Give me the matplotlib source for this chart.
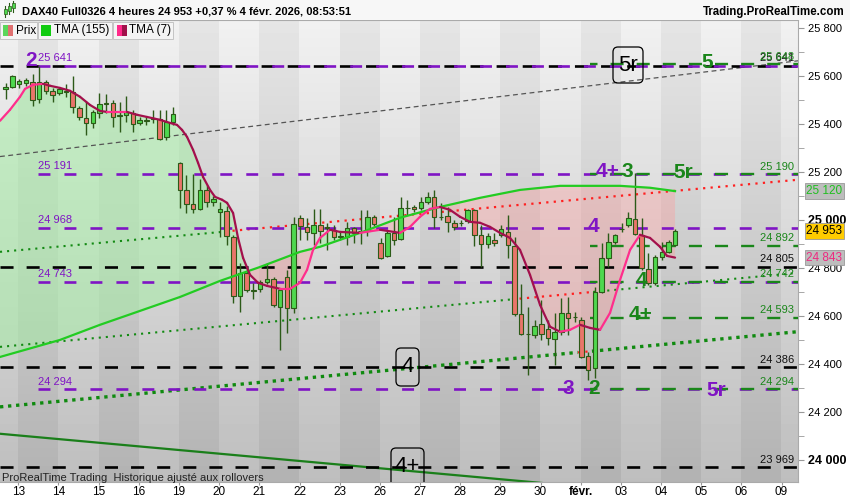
import matplotlib
matplotlib.use("Agg")
import matplotlib.pyplot as plt
import numpy as np
from matplotlib.patches import Rectangle, FancyBboxPatch
from matplotlib.collections import LineCollection

plt.rcParams['font.family'] = ['Liberation Sans', 'DejaVu Sans']
plt.rcParams['lines.scale_dashes'] = False

# jours affiches sous l'axe (un jour = 1 unite en x)
jours = ['13', '14', '15', '16', '19', '20', '21', '22', '23', '26', '27', '28',
         '29', '30', 'févr.', '03', '04', '05', '06', '09']

# bougies 4 heures (6 par jour), la premiere = 12 janv. 16h
ouv = [25546, 25554, 25567, 25571, 25575, 25504, 25575, 25538, 25529, 25534,
       25534, 25467, 25425, 25404, 25446, 25484, 25488, 25438, 25438, 25446,
       25404, 25412, 25421, 25421, 25346, 25409, 25238, 25125, 25067, 25046,
       25125, 25075, 25034, 25038, 24929, 24684, 24779, 24704, 24713, 24742,
       24754, 24638, 24763, 24634, 25009, 24971, 24946, 24979, 24971, 24959,
       24929, 24929, 24967, 24954, 24954, 25013, 24904, 24850, 24946, 24921,
       25050, 25054, 25050, 25075, 25096, 25013, 25017, 24988, 24988, 24996,
       25042, 24938, 24900, 24917, 24938, 24950, 24892, 24609, 24525, 24521,
       24567, 24546, 24504, 24534, 24613, 24596, 24584, 24434, 24384, 24700,
       24842, 24909, 24963, 24979, 25004, 24938, 24796, 24738, 24846, 24867,
       24896]
haut = [25571, 25604, 25588, 25592, 25609, 25641, 25584, 25550, 25554, 25567,
        25600, 25475, 25496, 25459, 25529, 25525, 25500, 25492, 25517, 25459,
        25429, 25434, 25459, 25459, 25459, 25471, 25242, 25188, 25192, 25171,
        25146, 25100, 25075, 25059, 24938, 24821, 24800, 24738, 24750, 24821,
        24763, 24717, 24792, 25013, 25021, 25009, 25046, 25046, 24988, 24979,
        24950, 24992, 24971, 25042, 25042, 25021, 24925, 24959, 25013, 25096,
        25084, 25063, 25096, 25117, 25125, 25071, 25054, 25000, 25000, 25046,
        25046, 24979, 24946, 24946, 24979, 25021, 24929, 24734, 24638, 24584,
        24667, 24584, 24613, 24675, 24679, 24617, 24596, 24450, 24721, 24904,
        24946, 24942, 24988, 25034, 25195, 25009, 24863, 24854, 24909, 24917,
        24963]
bas = [25504, 25550, 25550, 25559, 25475, 25488, 25525, 25492, 25521, 25513,
       25446, 25417, 25354, 25384, 25425, 25446, 25388, 25367, 25409, 25367,
       25396, 25396, 25404, 25334, 25334, 25396, 25050, 25029, 25029, 25042,
       25054, 25059, 24929, 24896, 24654, 24617, 24700, 24671, 24700, 24734,
       24638, 24459, 24529, 24613, 24917, 24917, 24896, 24904, 24875, 24917,
       24917, 24896, 24904, 24900, 24934, 24975, 24838, 24846, 24896, 24917,
       25021, 25034, 25042, 25067, 24967, 25000, 24950, 24959, 24975, 24988,
       24892, 24804, 24884, 24892, 24929, 24842, 24600, 24521, 24354, 24509,
       24500, 24479, 24396, 24521, 24521, 24575, 24425, 24334, 24342, 24696,
       24804, 24900, 24950, 24971, 24938, 24792, 24729, 24729, 24834, 24863,
       24892]
clot = [25554, 25600, 25579, 25584, 25500, 25575, 25538, 25521, 25546, 25538,
        25471, 25429, 25404, 25450, 25484, 25488, 25429, 25434, 25450, 25400,
        25417, 25415, 25425, 25338, 25409, 25442, 25125, 25067, 25046, 25125,
        25075, 25088, 25046, 24934, 24684, 24779, 24709, 24709, 24742, 24754,
        24646, 24709, 24634, 24984, 24975, 24950, 24979, 24954, 24967, 24929,
        24934, 24967, 24946, 24952, 25013, 24984, 24842, 24946, 24917, 25050,
        25048, 25046, 25075, 25096, 25013, 25011, 24992, 24971, 24986, 25042,
        24938, 24900, 24934, 24904, 24963, 24896, 24609, 24525, 24523, 24559,
        24525, 24509, 24534, 24613, 24592, 24594, 24429, 24375, 24700, 24842,
        24909, 24938, 24961, 25009, 24942, 24800, 24738, 24846, 24867, 24909,
        24953]

# TMA (7)
tma7_x = [-0.456, -0.207, 0.042, 0.167, 0.366, 0.615, 0.789, 1.038, 1.287, 1.536,
          1.785, 2.034, 2.210, 2.706, 2.955, 3.204, 3.528, 3.777, 3.951, 4.076,
          4.200, 4.350, 4.474, 4.599, 4.773, 4.897, 5.072, 5.197, 5.346, 5.470,
          5.595, 5.769, 5.968, 6.192, 6.516, 6.765, 7.013, 7.188, 7.337, 7.511,
          7.760, 8.009, 8.507, 9.005, 9.502, 9.751, 10.000, 10.249, 10.498, 10.747,
          10.996, 11.245, 11.494, 11.743, 11.992, 12.241, 12.490, 12.739, 12.988, 13.237,
          13.486, 13.735, 13.984, 14.233, 14.482, 14.731, 14.980, 15.229, 15.477, 15.726,
          15.975, 16.149, 16.349]
tma7_y = [25413, 25459, 25513, 25546, 25563, 25567, 25559, 25550, 25538, 25513,
          25479, 25454, 25450, 25450, 25438, 25429, 25417, 25404, 25396, 25375,
          25346, 25292, 25238, 25179, 25125, 25096, 25084, 25071, 25029, 24925,
          24842, 24771, 24738, 24725, 24713, 24713, 24738, 24792, 24875, 24925,
          24959, 24950, 24946, 24959, 24946, 24971, 25013, 25046, 25054, 25042,
          25013, 24992, 24988, 24971, 24946, 24925, 24875, 24771, 24646, 24555,
          24534, 24542, 24563, 24550, 24542, 24613, 24750, 24875, 24938, 24925,
          24888, 24850, 24843]

# TMA (155)
tma155_x = [-0.456, 1.038, 2.034, 4.026, 5.022, 6.018, 7.013, 7.511, 8.507,
            9.502, 10.498, 11.494, 12.490, 13.486, 14.980, 15.726, 16.349]
tma155_y = [24429, 24500, 24563, 24679, 24746, 24804, 24867, 24888, 24946,
            25009, 25054, 25092, 25125, 25142, 25142, 25134, 25120]

# niveaux horizontaux
niv_noir = [25641, 24805, 24386, 23969]
niv_violet = [25641, 25191, 24968, 24743, 24294]
niv_vert = [25648, 25190, 24892, 24742, 24593, 24294]

# lignes de tendance : (x0, y0, x1, y1)
tend_gris = (-0.456, 25264, 19.41, 25663)
tend_pointil_vert = [(-0.456, 24867, 5.07, 24950), (-0.456, 24471, 12.29, 24669),
                     (14.31, 24700, 19.386, 24779)]
tend_pointil_rouge = [(5.146, 24952, 19.386, 25167), (12.29, 24669, 14.31, 24700),
                      (13.93, 24448, 14.28, 24453)]
tend_gros_pointil = [(-0.456, 24221, 13.93, 24448), (14.28, 24453, 19.386, 24534)]
tend_vert_fonce = (-0.456, 24109, 19.41, 23807)

VIOLET = '#7f14c4'
VERTF = '#1a861a'
W, H = 850, 500


def fx(x):
    return x / W


def fy(y):
    return 1 - y / H


fig = plt.figure(figsize=(8.5, 5), dpi=100, facecolor='white')
ax = fig.add_axes([0, 18 / H, 798 / W, 462 / H])
X0, X1 = -0.456, 19.41
Y0, Y1 = 23908, 25833

# fond en bandes (un jour sur deux) avec degrade vertical
lignes = np.linspace(0, 1, 256)[:, None]
cols = np.arange(-1, 20)
fond = 0.945 - 0.20 * lignes - 0.045 * (cols % 2 == 0)[None, :]
ax.imshow(fond, extent=(-1, 20, Y0, Y1), origin='upper', cmap='gray', vmin=0, vmax=1,
          aspect='auto', interpolation='nearest', zorder=0)

# remplissage entre les deux moyennes
xs = np.linspace(tma7_x[0], tma7_x[-1], 1200)
p7 = np.interp(xs, tma7_x, tma7_y)
p155 = np.interp(xs, tma155_x, tma155_y)
ax.fill_between(xs, p7, p155, where=p7 >= p155, interpolate=True,
                color=(0.63, 0.94, 0.63), alpha=0.5, lw=0, zorder=1)
ax.fill_between(xs, p7, p155, where=p7 < p155, interpolate=True,
                color=(1.0, 0.6, 0.6), alpha=0.35, lw=0, zorder=1)

# lignes de tendance
ax.plot(tend_gris[0::2], tend_gris[1::2], color='#555555', lw=0.9, ls=(0, (3.5, 2.5)), zorder=2)
for s in tend_pointil_vert:
    ax.plot(s[0::2], s[1::2], color='#138a13', lw=1.5, ls=(0, (1.5, 3.6)), zorder=2)
for s in tend_pointil_rouge:
    ax.plot(s[0::2], s[1::2], color='#ff2020', lw=1.6, ls=(0, (1.6, 3.8)), zorder=2)
for s in tend_gros_pointil:
    ax.plot(s[0::2], s[1::2], color='#0f8a0f', lw=2.4, ls=(0, (2.4, 3.4)), zorder=2)
ax.plot(tend_vert_fonce[0::2], tend_vert_fonce[1::2], color='#1a7f1a', lw=1.6, zorder=2)

# niveaux
x_violet = (38 - 18.3) / 40.17
x_vert = (590 - 18.3) / 40.17
for v in niv_noir:
    ax.plot([X0, X1], [v, v], color='black', lw=1.9, ls=(0, (9.4, 9.4)), zorder=3)
for v in niv_violet:
    ax.plot([x_violet, X1], [v, v], color=VIOLET, lw=1.9, ls=(0, (8.6, 10.1)), zorder=3)
for v in niv_vert:
    ax.plot([x_vert, X1], [v, v], color=VERTF, lw=1.7, ls=(4, (9.4, 9.4)), zorder=3)

# etiquettes des niveaux
for v in niv_violet:
    ax.annotate(f"{v // 1000} {v % 1000:03d}", xy=(x_violet, v), xytext=(0, 2),
                textcoords='offset points', color=VIOLET, fontsize=8, va='bottom', zorder=8)
for v in niv_noir:
    ax.annotate(f"{v // 1000} {v % 1000:03d}", xy=(1, v), xycoords=('axes fraction', 'data'),
                xytext=(-3, 2), textcoords='offset points', ha='right', va='bottom',
                color='#111111', fontsize=8, zorder=8)
for v in niv_vert:
    ax.annotate(f"{v // 1000} {v % 1000:03d}", xy=(1, v), xycoords=('axes fraction', 'data'),
                xytext=(-3, 2), textcoords='offset points', ha='right', va='bottom',
                color=VERTF, fontsize=8, zorder=8)

# bougies
xb = np.arange(len(clot)) / 6 - 2 / 6 + 0.02
for x, o, h, l, c in zip(xb, ouv, haut, bas, clot):
    ax.vlines(x, l, h, color='#2c5a18', lw=1.0, zorder=4)
    col = '#4fd84f' if c >= o else '#e9756a'
    ax.add_patch(Rectangle((x - 0.056, min(o, c)), 0.112, max(abs(c - o), 2),
                           fc=col, ec='#2c5a18', lw=0.8, zorder=5))

# moyennes
ax.plot(tma155_x, tma155_y, color='#22cc22', lw=1.6, zorder=6)
pts = np.column_stack([tma7_x, tma7_y])
segs = np.stack([pts[:-1], pts[1:]], axis=1)
couleurs = ['#ff2e8c' if b >= a else '#a3104c' for a, b in zip(tma7_y[:-1], tma7_y[1:])]
ax.add_collection(LineCollection(segs, colors=couleurs, lw=1.6, zorder=6, capstyle='round'))

ax.set_xlim(X0, X1)
ax.set_ylim(Y0, Y1)

# axes
ax.yaxis.tick_right()
yt = list(range(24000, 25801, 200))
ax.set_yticks(yt)
ax.set_yticklabels([f"{v // 1000} {v % 1000:03d}" for v in yt], fontsize=8)
ax.set_yticks(list(range(24100, 25800, 200)), minor=True)
for t, v in zip(ax.get_yticklabels(), yt):
    if v % 1000 == 0:
        t.set_fontweight('bold')
        t.set_fontsize(9)
ax.tick_params(axis='y', which='both', length=4, color='#999999', pad=3, labelcolor='black')
ax.set_xticks(range(len(jours)))
ax.set_xticklabels(jours, fontsize=8.5)
ax.get_xticklabels()[14].set_fontweight('bold')
ax.tick_params(axis='x', length=2, color='#999999', pad=1)
ax.spines['left'].set_visible(False)
for s in ['right', 'bottom', 'top']:
    ax.spines[s].set_color('#aaaaaa')

# etiquettes de prix sur l'axe
for val, fc, tc in [(25120, '#bdbdbd', '#1fbf1f'), (24953, '#ffcc00', 'black'),
                    (24843, '#bdbdbd', '#ee2a80')]:
    ax.annotate(f"{val // 1000} {val % 1000:03d}", xy=(1, val), xycoords=('axes fraction', 'data'),
                xytext=(6, 0), textcoords='offset points', va='center', ha='left', fontsize=8.5,
                color=tc, annotation_clip=False, zorder=10,
                bbox=dict(boxstyle='square,pad=0.15', fc=fc, ec='#999999', lw=0.6))

# comptage des vagues
vagues = [('2', 31, 61, VIOLET), ('5', 707, 63, VERTF), ('5r', 683, 173, VERTF),
          ('4', 593, 226, VIOLET), ('4', 641, 281, VERTF), ('4+', 641, 315, VERTF),
          ('3', 568, 388, VIOLET), ('2', 594, 388, VERTF), ('5r', 716, 390, VIOLET)]
for t, x, y, c in vagues:
    fig.text(fx(x), fy(y), t, color=c, fontsize=15, fontweight='bold', ha='center', va='center')
fig.text(fx(620), fy(171), '4+', color=VIOLET, fontsize=15, fontweight='bold', ha='right', va='center')
fig.text(fx(621), fy(171), '3', color=VERTF, fontsize=15, fontweight='bold', ha='left', va='center')

# etiquettes encadrees
for t, x0, y0, x1, y1 in [('5r', 613, 47, 643, 83), ('4', 396, 348, 419, 386), ('4+', 391, 448, 424, 492)]:
    b = FancyBboxPatch((x0 / 100, (H - y1) / 100), (x1 - x0) / 100, (y1 - y0) / 100,
                       boxstyle='round,pad=0,rounding_size=0.05', fc='none', ec='black', lw=0.9,
                       transform=fig.dpi_scale_trans, zorder=9)
    ax.add_patch(b)
    ax.text((x0 + x1) / 200, (H - (y0 + y1) / 2) / 100 if t != '4+' else (H - 467) / 100, t,
            transform=fig.dpi_scale_trans, fontsize=16, ha='center', va='center',
            color='black', zorder=9, clip_on=True)

ax.text(0.003, 0.002, 'ProRealTime Trading  Historique ajusté aux rollovers', transform=ax.transAxes,
        fontsize=8, color='#222222', zorder=9)

# barre du haut
fig.add_artist(Rectangle((0, fy(20)), 1, 20 / H, transform=fig.transFigure, fc='#f7f7f7', ec='none', zorder=1))
for x, y0, y1, b0, b1 in [(5, 6, 17, 9, 14), (9, 3, 14, 6, 11), (13, 1, 12, 3, 8)]:
    fig.add_artist(plt.Line2D([fx(x), fx(x)], [fy(y0), fy(y1)], color='#2c5a18', lw=0.8, zorder=2))
    fig.add_artist(Rectangle((fx(x - 1.5), fy(b1)), 3 / W, (b1 - b0) / H, transform=fig.transFigure,
                             fc='#4fd84f', ec='#2c5a18', lw=0.5, zorder=3))
fig.text(fx(22), fy(11), 'DAX40 Full0326 4 heures 24 953 +0,37 % 4 févr. 2026, 08:53:51',
         fontsize=8, fontweight='bold', va='center', zorder=4)
fig.text(fx(845), fy(12), 'Trading.ProRealTime.com', fontsize=8.3, fontweight='bold',
         ha='right', va='center', zorder=4)

# legende
for x0, x1, txt in [(0, 37, 'Prix'), (38, 112, 'TMA (155)'), (113, 173, 'TMA (7)')]:
    fig.add_artist(Rectangle((fx(x0), fy(39)), (x1 - x0) / W, 17 / H, transform=fig.transFigure,
                             fc='#f4f4f4', ec='#c4c4c4', lw=0.7, zorder=2))
    fig.text(fx(x0 + 16), fy(30.5), txt, fontsize=8.5, va='center', zorder=4)
for x0, c1, c2 in [(3, '#5ad65a', '#e07070'), (41, '#11cc11', '#11cc11'), (117, '#ff2a8a', '#a0104a')]:
    fig.add_artist(Rectangle((fx(x0), fy(36)), 5 / W, 11 / H, transform=fig.transFigure, fc=c1, ec='none', zorder=3))
    fig.add_artist(Rectangle((fx(x0 + 5), fy(36)), 5 / W, 11 / H, transform=fig.transFigure, fc=c2, ec='none', zorder=3))

fig.savefig('out.png', dpi=100, facecolor='white')
